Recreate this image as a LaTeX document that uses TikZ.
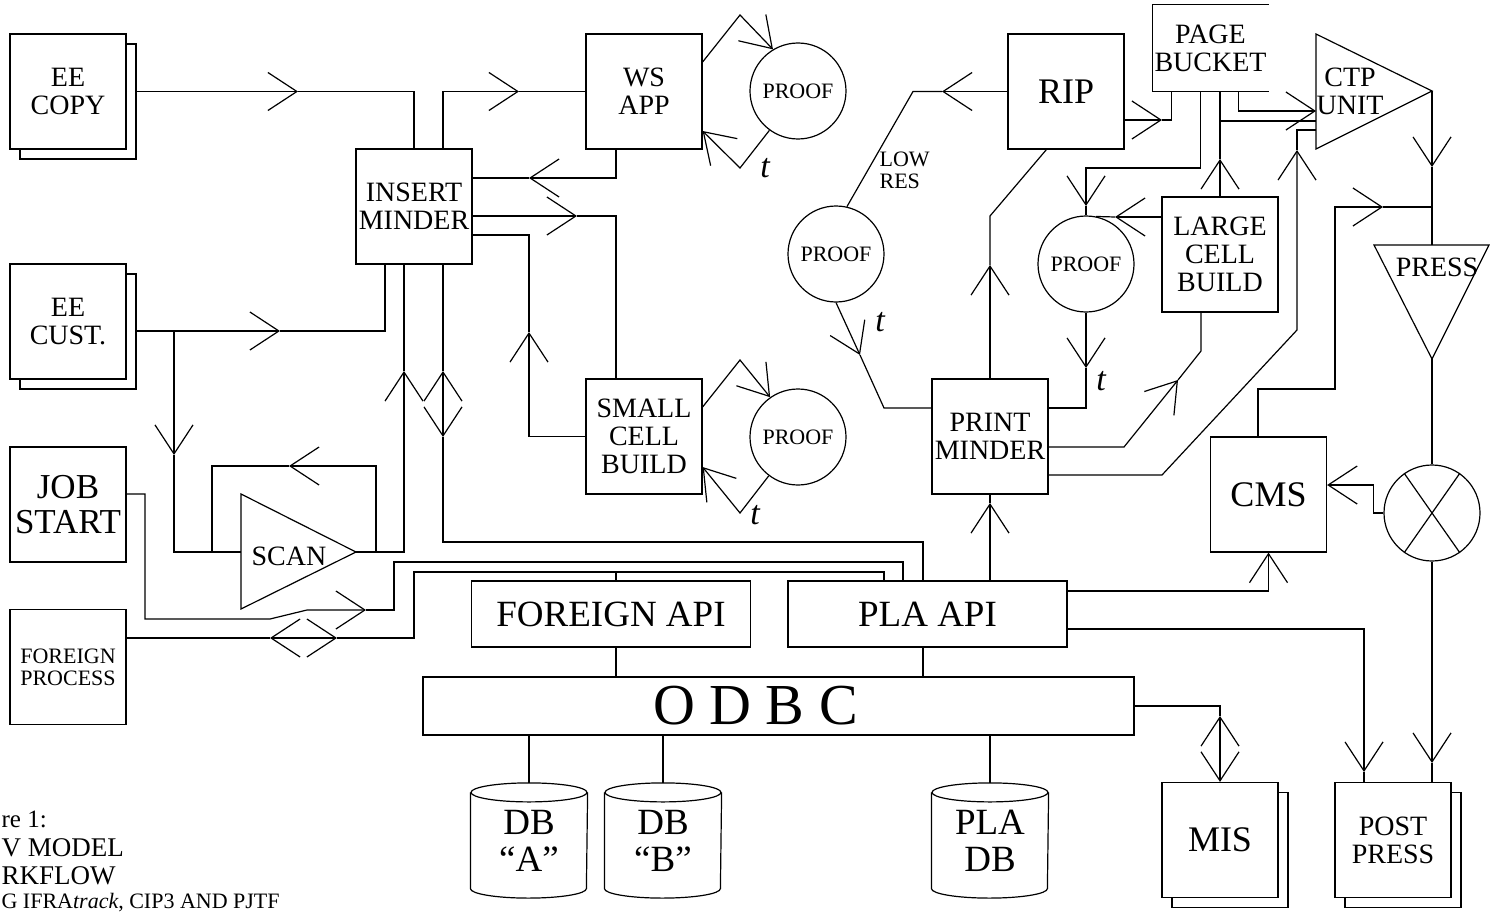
\documentclass[tikz,border=0pt]{standalone}
\usepackage{fontspec}
\setmainfont{Liberation Serif}
\usetikzlibrary{arrows.meta,shadows}
\newcommand\fsz[1]{\fontsize{#1}{#1}\selectfont}

\begin{document}
\begin{tikzpicture}[x=0.5pt, y=-0.5pt, line width=0.6pt,
  box/.style={draw, fill=white, minimum width=58pt, minimum height=57.5pt,
    inner sep=0pt, align=center, font=\fsz{14}},
  stackbox/.style={box, copy shadow={shadow xshift=5pt, shadow yshift=-5pt}},
  proof/.style={draw, circle, minimum size=48pt, inner sep=0pt, font=\fsz{11}},
  api/.style={draw, minimum width=139.5pt, minimum height=33pt, inner sep=0pt, font=\fsz{18.5}},
  drum/.style={minimum width=58pt, minimum height=47.5pt, inner sep=0pt, align=center, font=\fsz{18.5}},
  tlab/.style={font=\fsz{17}\itshape},
  captxt/.style={anchor=base west, inner sep=0pt},
  fl/.style={-{Straight Barb[length=14.5pt, width=19pt]}},
  fl2/.style={{Straight Barb[length=14.5pt, width=19pt]}-{Straight Barb[length=14.5pt, width=19pt]}}]
  \useasboundingbox (0,0) rectangle (1494,915);

  % Inputs
  \node[stackbox] (copy) at (68,91.5) {EE\\COPY};
  \node[stackbox] (cust) at (68,321.5) {EE\\CUST.};
  \node[box, font=\fsz{17.5}] (job) at (68,504.5) {JOB\\START};
  \node[box, font=\fsz{11}] (fproc) at (68,667) {FOREIGN\\PROCESS};

  % Scanner
  \coordinate (scanin) at (241,552);
  \coordinate (scanout) at (356,552);
  \draw (scanout) -- (241,494) -- (241,609) -- cycle;
  \node[font=\fsz{14}] (scan) at (289,556) {SCAN};

  % Minders and builders
  \node[box] (im) at (414,206.5) {INSERT\\MINDER};
  \node[box] (ws) at (644,91.5) {WS\\APP};
  \node[box] (scb) at (644,436.5) {SMALL\\CELL\\BUILD};
  \node[box] (pm) at (990,436.5) {PRINT\\MINDER};
  \node[box, font=\fsz{18}] (rip) at (1066,91.5) {RIP};
  \node[box] (lcb) at (1220,254.5) {LARGE\\CELL\\BUILD};
  \node[box, font=\fsz{18}] (cms) at (1268.5,494.5) {CMS};
  \node[minimum width=57.5pt, minimum height=43pt, inner sep=0pt, align=center,
    font=\fsz{14}] (pb) at (1210.5,48) {PAGE\\BUCKET};
  \draw (pb.north east) -- (pb.north west) -- (pb.south west) -- (pb.south east);

  % Proofs
  \node[proof] (pr1) at (798,91) {PROOF};
  \node[proof] (pr2) at (836,254) {PROOF};
  \node[proof] (pr3) at (1086,264) {PROOF};
  \node[proof] (pr4) at (798,437) {PROOF};
  \node[font=\fsz{11}, align=left, anchor=west, inner sep=0pt] (lowres) at (879,170) {LOW\\RES};

  % Output side
  \coordinate (ctpout) at (1432,91);
  \draw (ctpout) -- (1316,34) -- (1316,149) -- cycle;
  \node[align=center, font=\fsz{14}] (ctp) at (1350,91) {CTP\\UNIT};
  \coordinate (presstop) at (1432,245);
  \coordinate (pressout) at (1432,359);
  \draw (pressout) -- (1374,245) -- (1489,245) -- cycle;
  \node[font=\fsz{14}] (press) at (1437,267) {PRESS};
  \node[draw, circle, minimum size=48pt, inner sep=0pt] (mix) at (1432,513) {};
  \draw (mix.55) -- (mix.235) (mix.125) -- (mix.305);

  % APIs and data
  \node[api] (fapi) at (611,614) {FOREIGN API};
  \node[api] (papi) at (927.5,614) {PLA API};
  \node[draw, minimum width=355.5pt, minimum height=29pt, inner sep=0pt,
    font=\fsz{29}] (odbc) at (778.5,706) {O D B C\hspace*{23pt}};
  \node[drum] (dba) at (529,840.5) {DB\\``A''};
  \node[drum] (dbb) at (663,840.5) {DB\\``B''};
  \node[drum] (pdb) at (990,840.5) {PLA\\DB};
  \foreach \d in {dba,dbb,pdb}{
    \draw (\d.north west) -- (\d.south west)
      arc[start angle=180, end angle=360, x radius=29pt, y radius=4.75pt] -- (\d.north east);
    \draw (\d.north) ellipse [x radius=29pt, y radius=4.75pt];
    \draw (\d.north |- odbc.south) -- ([yshift=4.75pt]\d.north);
  }
  \node[stackbox, font=\fsz{18}] (mis) at (1220,840) {MIS};
  \node[stackbox] (post) at (1393,840) {POST\\PRESS};

  % Copy and customer feeds
  \coordinate (a1) at (298,91.5);
  \draw[fl] ([xshift=5pt]copy.east) -- (a1);
  \draw (a1) -| (im.north);
  \coordinate (f0) at (136,331);
  \coordinate (f1) at (280,331);
  \draw[fl] (f0) -- (f1);
  \draw (f1) -| ([xshift=-14.5pt]im.south);
  \coordinate (g0) at (174,331);
  \coordinate (g1) at (174,455);
  \draw[fl] (g0) -- (g1);
  \draw (g1) |- (scanin);
  \coordinate (h1) at (289,466);
  \draw[fl] (376,552) |- (h1);
  \draw (h1) -| (212,552);
  \coordinate (i1) at (404,371);
  \draw[fl] (scanout) -| (i1);
  \draw (i1) -- (i1 |- im.south);

  % Insert minder links
  \coordinate (b1) at (519,91.5);
  \draw[fl] ([xshift=14.5pt]im.north) |- (b1);
  \draw (b1) -- (ws.west);
  \coordinate (c1) at (529,178);
  \draw[fl] ([xshift=-14pt]ws.south) |- (c1);
  \draw (c1) -- (c1 -| im.east);
  \coordinate (d1) at (577,216);
  \draw[fl] (im.east |- d1) -- (d1);
  \draw (d1) -| ([xshift=-14pt]scb.north);
  \coordinate (e1) at (529,332);
  \draw[fl] (scb.west) -| (e1);
  \draw (e1) |- (im.east |- 0,235);
  \coordinate (j1) at (443,371);
  \coordinate (j2) at (443,437);
  \draw (j1 |- im.south) -- (j1);
  \draw[fl2] (j1) -- (j2);
  \draw (j2) |- (923,542) -- +(0,39);

  % Proof loops
  \draw[fl] (ws.east |- 0,62) -- (740,15) -- (pr1.121);
  \draw[fl] (pr1.234) -- (740,168) -- (ws.east |- 0,131);
  \draw[fl] (scb.east |- 0,407) -- (740,360) -- (pr4.125);
  \draw[fl] (pr4.233) -- (740,513) -- (scb.east |- 0,467);

  % Job start and foreign process
  \coordinate (k1) at (366,610);
  \draw[fl] (job.east |- 0,494) -| (145,619) -- (270,619) -- (307,610) -- (k1);
  \draw (k1) -| (394,562) -| ([xshift=-12.25pt]papi.north);
  \coordinate (l1) at (270,638);
  \coordinate (l2) at (337,638);
  \draw (fproc.east |- l1) -- (l1);
  \draw[fl2] (l1) -- (l2);
  \draw (l2) -| (414,572) -| ([xshift=-21.75pt]papi.north);
  \draw ([xshift=2.5pt]fapi.north) -- +(0,-9);
  \draw ([xshift=2.5pt]fapi.south) -- +(0,30);
  \draw ([xshift=-2.25pt]papi.south) -- +(0,30);

  % Print minder
  \coordinate (m1) at (990,503);
  \draw[fl] (m1 |- papi.north) -- (m1);
  \draw (m1) -- (pm.south);
  \coordinate (n1) at (990,265);
  \draw[fl] (pm.north) -- (n1);
  \draw (n1) -- (990,216) -- ([xshift=19.5pt]rip.south west);
  \coordinate (o1) at (942,91.5);
  \draw[fl] (rip.west) -- (o1);
  \draw (o1) -- (913,91.5) -- (pr2.77);
  \coordinate (p1) at (860,355);
  \draw[fl] (pr2.south) -- (p1);
  \draw (p1) -- (884,408) -- (pm.west |- 0,408);
  \node[tlab] (tws) at (765,168) {t};
  \node[tlab] (tlow) at (880,322) {t};
  \node[tlab] (tscb) at (755,515) {t};
  \node[tlab] (tpr) at (1101,381) {t};

  % Page bucket and large cells
  \coordinate (q1) at (1162,120);
  \draw[fl] (rip.east |- q1) -- (q1);
  \draw (q1) -| ([xshift=9.5pt]pb.south west);
  \coordinate (r1) at (1086,206);
  \draw[fl] ([xshift=24pt]pb.south west) |- (1086,168) -- (r1);
  \draw (r1) -- (pr3.north);
  \coordinate (s1) at (1115,217);
  \draw[fl] (lcb.west |- s1) -- (s1);
  \draw (s1) -- (pr3.78);
  \coordinate (t1) at (1220,159);
  \draw[fl] (lcb.north) -- (t1);
  \draw (t1) -- (t1 |- pb.south);
  \draw (1220,121) -- (1316,121);
  \draw[fl] ([xshift=43pt]pb.south west) |- (1316,111);
  \coordinate (w1) at (1297,150);
  \draw[fl] (pm.east |- 0,475) -- (1162,475) -- (1297,330) -- (w1);
  \draw (w1) |- (1316,130);
  \coordinate (x1) at (1178,380);
  \draw[fl] (pm.east |- 0,447) -- (1124,447) -- (x1);
  \draw (x1) -- (1201,351) -- ([xshift=-9.5pt]lcb.south);
  \coordinate (y1) at (1086,368);
  \draw[fl] (pr3.south) -- (y1);
  \draw (y1) |- (pm.east |- 0,408);

  % Press line
  \coordinate (z1) at (1432,167);
  \draw[fl] (ctpout) -- (z1);
  \draw (z1) -- (presstop);
  \coordinate (aa1) at (1383,207);
  \draw[fl] ([xshift=-5.25pt]cms.north) |- (1335,389) |- (aa1);
  \draw (aa1) -- (aa1 -| z1);
  \draw (pressout) -- (mix.north);
  \draw[fl] (mix.west) -- ++(-10,0) |- (cms.east |- 0,485);
  \coordinate (dd1) at (1432,763);
  \draw[fl] (mix.south) -- (dd1);
  \draw (dd1) -- (dd1 |- post.north);
  \draw[fl] (papi.east |- 0,591) -| (cms.south);
  \coordinate (ff1) at (1364,772);
  \draw[fl] (papi.east |- 0,629) -| (ff1);
  \draw (ff1) -- (ff1 |- post.north);
  \coordinate (gg1) at (1220,716);
  \draw (odbc.east) -| (gg1);
  \draw[fl2] (gg1) -- (mis.north);

  % Caption
  \node[captxt, font=\fsz{12.5}] (cap1) at (1,827) {re 1:};
  \node[captxt, font=\fsz{13.5}] (cap2) at (1,856) {V MODEL};
  \node[captxt, font=\fsz{13.5}] (cap3) at (1,884) {RKFLOW};
  \node[captxt, font=\fsz{11}] (cap4) at (1,908) {G IFRA\textit{track}, CIP3 AND PJTF};
\end{tikzpicture}
\end{document}
